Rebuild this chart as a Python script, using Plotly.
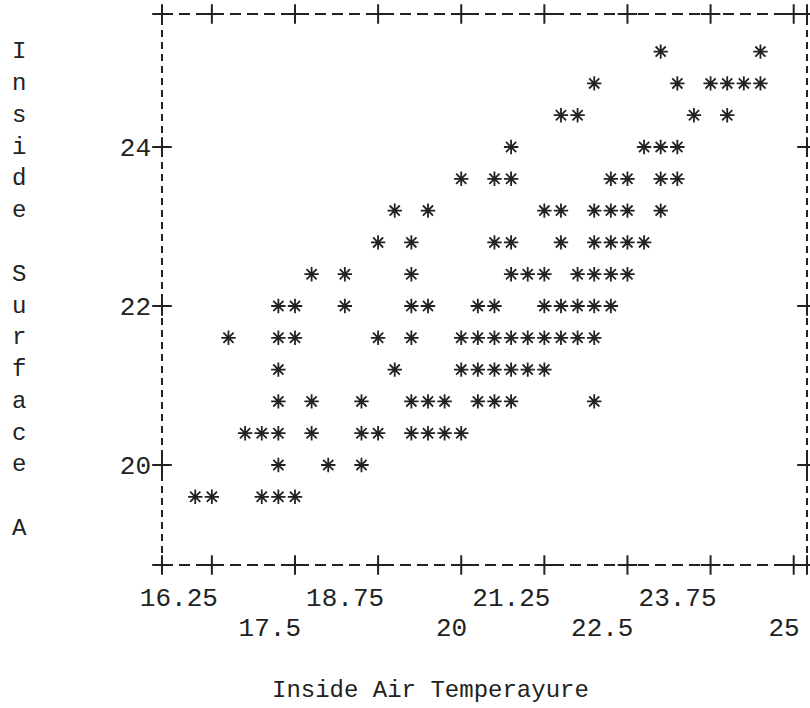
import plotly.graph_objects as go

# ---- data (one "*" per cell) ----
x_temp = [
    23.0, 24.5,
    22.0, 23.25, 23.75, 24.0, 24.25, 24.5,
    21.5, 21.75, 23.5, 24.0,
    20.75, 22.75, 23.0, 23.25,
    20.0, 20.5, 20.75, 22.25, 22.5, 23.0, 23.25,
    19.0, 19.5, 21.25, 21.5, 22.0, 22.25, 22.5, 23.0,
    18.75, 19.25, 20.5, 20.75, 21.5, 22.0, 22.25, 22.5, 22.75,
    17.75, 18.25, 19.25, 20.75, 21.0, 21.25, 21.75, 22.0, 22.25, 22.5,
    17.25, 17.5, 18.25, 19.25, 19.5, 20.25, 20.5, 21.25, 21.5, 21.75, 22.0, 22.25,
    16.5, 17.25, 17.5, 18.75, 19.25, 20.0, 20.25, 20.5, 20.75, 21.0, 21.25, 21.5, 21.75, 22.0,
    17.25, 19.0, 20.0, 20.25, 20.5, 20.75, 21.0, 21.25,
    17.25, 17.75, 18.5, 19.25, 19.5, 19.75, 20.25, 20.5, 20.75, 22.0,
    16.75, 17.0, 17.25, 17.75, 18.5, 18.75, 19.25, 19.5, 19.75, 20.0,
    17.25, 18.0, 18.5,
    16.0, 16.25, 17.0, 17.25, 17.5,
]
y_surf = (
    [25.2] * 2 + [24.8] * 6 + [24.4] * 4 + [24.0] * 4 + [23.6] * 7 +
    [23.2] * 8 + [22.8] * 9 + [22.4] * 10 + [22.0] * 12 + [21.6] * 14 +
    [21.2] * 8 + [20.8] * 10 + [20.4] * 10 + [20.0] * 3 + [19.6] * 5
)

x_ticks_upper = [16.25, 18.75, 21.25, 23.75]
x_labels_upper = ["16.25", "18.75", "21.25", "23.75"]
x_ticks_lower = [17.5, 20, 22.5, 25]
x_labels_lower = ["17.5", "20", "22.5", "25"]
y_ticks = [20, 22, 24]
y_tick_labels = ["20", "22", "24"]
x_title = "Inside Air Temperayure"
y_title = "Inside Surface A"

X_RANGE = [15.5, 25.2]
Y_RANGE = [18.742, 25.673]

FONT = "Liberation Mono"
INK = "#222222"

fig = go.Figure()

# data stars
fig.add_trace(go.Scatter(
    x=x_temp, y=y_surf, mode="markers",
    marker=dict(symbol="asterisk-open", size=12, color=INK,
                line=dict(color=INK, width=1.8)),
    hoverinfo="x+y", showlegend=False,
))

# "+" marks on the dashed frame (drawn on the overlaid x axis)
x_ticks_all = sorted(x_ticks_upper + x_ticks_lower)
top_bottom_x = [X_RANGE[0]] + x_ticks_all + [X_RANGE[1]]
plus_x = top_bottom_x * 2 + [X_RANGE[0]] * len(y_ticks) + [X_RANGE[1]] * len(y_ticks)
plus_y = ([Y_RANGE[1]] * len(top_bottom_x) + [Y_RANGE[0]] * len(top_bottom_x)
          + y_ticks + y_ticks)
fig.add_trace(go.Scatter(
    x=plus_x, y=plus_y, mode="markers", xaxis="x2", yaxis="y",
    marker=dict(symbol="cross-thin-open", size=14, color=INK,
                line=dict(color=INK, width=2)),
    hoverinfo="skip", showlegend=False, cliponaxis=False,
))

# dashed frame
dash_h = "11px,6px"
dash_v = "7px,5px"
for (x0, y0, x1, y1, d) in [(0, 1, 1, 1, dash_h), (0, 0, 1, 0, dash_h),
                            (0, 0, 0, 1, dash_v), (1, 0, 1, 1, dash_v)]:
    fig.add_shape(type="line", xref="paper", yref="paper",
                  x0=x0, y0=y0, x1=x1, y1=y1,
                  line=dict(color=INK, width=2, dash=d))

tick_common = dict(
    range=X_RANGE, showgrid=False, zeroline=False, showline=False, ticks="",
    tickfont=dict(family=FONT, size=26, color=INK),
    ticklabelposition="outside left", ticklabelshift=6,
)
fig.update_layout(
    xaxis=dict(tickvals=x_ticks_upper, ticktext=x_labels_upper,
               ticklabelstandoff=14, **tick_common),
    xaxis2=dict(tickvals=x_ticks_lower, ticktext=x_labels_lower,
                ticklabelstandoff=44, overlaying="x", anchor="y", side="bottom",
                **tick_common),
    yaxis=dict(range=Y_RANGE, tickvals=y_ticks, ticktext=y_tick_labels,
               showgrid=False, zeroline=False, showline=False, ticks="",
               tickfont=dict(family=FONT, size=26, color=INK),
               ticklabelstandoff=10),
)

# vertical, one-letter-per-row y title
for i, ch in enumerate(y_title):
    if ch.strip():
        fig.add_annotation(
            x=0, xref="paper", xshift=-143, y=25.2 - 0.4 * i, yref="y",
            text=ch, showarrow=False, xanchor="center", yanchor="middle",
            font=dict(family=FONT, size=24, color=INK),
        )

# x title
fig.add_annotation(
    x=0.416, xref="paper", y=0, yref="paper", yshift=-125,
    text=x_title, showarrow=False, xanchor="center", yanchor="middle",
    font=dict(family=FONT, size=24, color=INK),
)

fig.update_layout(
    width=810, height=708,
    margin=dict(l=162, r=3, t=14, b=143),
    paper_bgcolor="white", plot_bgcolor="white",
    showlegend=False,
)

fig.write_html("out.html", config={"displayModeBar": False},
               post_script="document.body.style.margin='0px';")
